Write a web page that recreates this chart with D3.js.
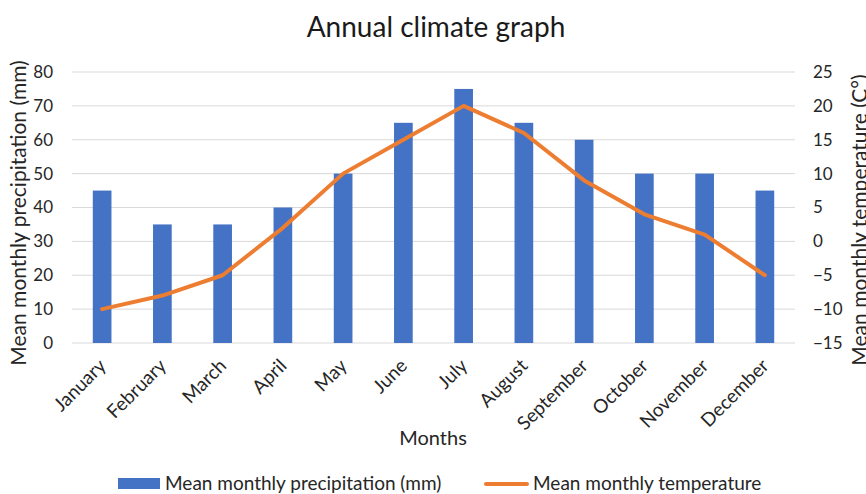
<!DOCTYPE html>
<html><head><meta charset="utf-8">
<script src="https://cdn.jsdelivr.net/npm/d3@7"></script>
<style>body{margin:0;background:#fff;overflow:hidden}svg{display:block;font-family:Lato,"Open Sans",sans-serif}</style>
</head><body><svg id="c" width="866" height="494"></svg>
<script>
const months = ["January","February","March","April","May","June","July","August","September","October","November","December"];
const precipitation = [45,35,35,40,50,65,75,65,60,50,50,45];
const temperature = [-10,-8,-5,2,10,15,20,16,9,4,1,-5];
const precipTicks = [0,10,20,30,40,50,60,70,80];
const tempTicks = [-15,-10,-5,0,5,10,15,20,25];

const svg = d3.select("#c");
const L = 72, R = 795, T = 72, B = 343;
const textCol = "#262626";

const xc = d3.scaleBand().domain(months).range([L, R]);
const yP = d3.scaleLinear().domain([0, 80]).range([B, T]);
const yT = d3.scaleLinear().domain([-15, 25]).range([B, T]);
const cx = m => xc(m) + xc.bandwidth() / 2;

// gridlines
svg.append("g").selectAll("line").data(precipTicks).join("line")
  .attr("x1", L).attr("x2", R).attr("y1", d => yP(d)).attr("y2", d => yP(d))
  .attr("stroke", "#d9d9d9").attr("stroke-width", 1);

// bars
const barW = xc.bandwidth() * 0.31;
svg.append("g").selectAll("rect").data(precipitation).join("rect")
  .attr("x", (d, i) => cx(months[i]) - barW / 2)
  .attr("width", barW)
  .attr("y", d => yP(d)).attr("height", d => yP(0) - yP(d))
  .attr("fill", "#4472C4");

// line
const line = d3.line().x((d, i) => cx(months[i])).y(d => yT(d));
svg.append("path").datum(temperature).attr("d", line)
  .attr("fill", "none").attr("stroke", "#ED7D31").attr("stroke-width", 4)
  .attr("stroke-linejoin", "round").attr("stroke-linecap", "round");

// left axis
const la = svg.append("g").attr("transform", `translate(${L},0)`)
  .call(d3.axisLeft(yP).tickValues(precipTicks).tickSize(0).tickPadding(19));
la.select(".domain").remove();
la.selectAll("text").attr("font-size", 17).attr("fill", textCol).attr("font-family", "Lato");

// right axis
const ra = svg.append("g").attr("transform", `translate(${R},0)`)
  .call(d3.axisRight(yT).tickValues(tempTicks).tickSize(0).tickPadding(18));
ra.select(".domain").remove();
ra.selectAll("text").attr("font-size", 17).attr("fill", textCol).attr("font-family", "Lato");

// x axis labels
const xa = svg.append("g").attr("transform", `translate(0,${B})`)
  .call(d3.axisBottom(xc).tickSize(0).tickPadding(0));
xa.select(".domain").remove();
xa.selectAll("text").attr("font-size", 19).attr("fill", textCol).attr("font-family", "Lato")
  .attr("text-anchor", "end").attr("dy", 0)
  .attr("transform", "translate(5,24) rotate(-45)");

// titles
svg.append("text").attr("x", 436).attr("y", 37).attr("text-anchor", "middle")
  .attr("font-size", 28).attr("fill", "#1a1a1a").text("Annual climate graph");
svg.append("text").attr("x", 433).attr("y", 445).attr("text-anchor", "middle")
  .attr("font-size", 20).attr("fill", textCol).text("Months");
svg.append("text").attr("transform", `translate(26,213) rotate(-90)`).attr("text-anchor", "middle")
  .attr("font-size", 21).attr("fill", textCol).text("Mean monthly precipitation (mm)");
svg.append("text").attr("transform", `translate(867,220) rotate(-90)`).attr("text-anchor", "middle")
  .attr("font-size", 21).attr("fill", textCol).text("Mean monthly temperature (C°)");

// legend
const lg = svg.append("g");
lg.append("rect").attr("x", 118).attr("y", 478).attr("width", 42).attr("height", 11).attr("fill", "#4472C4");
lg.append("text").attr("x", 165).attr("y", 490).attr("font-size", 19).attr("fill", textCol).text("Mean monthly precipitation (mm)");
lg.append("line").attr("x1", 486).attr("x2", 527).attr("y1", 484).attr("y2", 484).attr("stroke", "#ED7D31").attr("stroke-width", 4).attr("stroke-linecap", "round");
lg.append("text").attr("x", 533).attr("y", 490).attr("font-size", 19).attr("fill", textCol).text("Mean monthly temperature");
</script></body></html>
